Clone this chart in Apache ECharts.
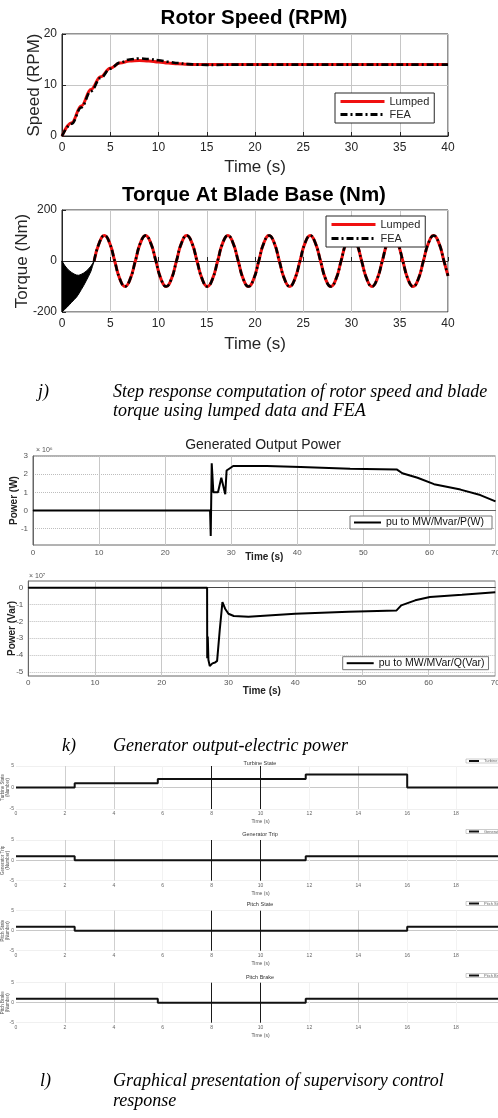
<!DOCTYPE html>
<html><head><meta charset="utf-8">
<script src="https://cdn.jsdelivr.net/npm/echarts@6/dist/echarts.min.js"></script>
<style>html,body{margin:0;padding:0;background:#fff}#c{width:498px;height:1118px}</style>
</head><body><div id="c"></div>
<script>
// ---------- j) rotor speed ----------
const speedTime   = [0,1,2,3,4,5,6,7,8,9,10,11,12,13,14,15,16,18,20,25,30,35,40];
const speedLumped = [0,2.6,5.9,9.1,11.6,13.3,14.3,14.7,14.8,14.7,14.5,14.3,14.15,14.05,14.0,14.0,14.0,14.0,14.0,14.0,14.0,14.0,14.0];
const speedFEA    = [0,2.4,5.6,8.8,11.4,13.2,14.4,15.0,15.2,15.1,14.85,14.55,14.3,14.1,14.0,13.95,13.95,14.0,14.0,14.0,14.0,14.0,14.0];
const speedXTicks = [0,40,5];   // min, max, step
const speedYTicks = [0,20,10];

// ---------- j) torque at blade base ----------
const torqueTime = [3.33,3.86,4.40,4.93,5.46,6.00,6.53,7.06,7.60,8.13,8.66,9.19,9.73,10.26,10.79,11.33,11.86,12.39,12.93,13.46,13.99,14.53,15.06,15.59,16.13,16.66,17.19,17.72,18.26,18.79,19.32,19.86,20.39,20.92,21.46,21.99,22.52,23.06,23.59,24.12,24.66,25.19,25.72,26.25,26.79,27.32,27.85,28.39,28.92,29.45,29.99,30.52,31.05,31.59,32.12,32.65,33.19,33.72,34.25,34.78,35.32,35.85,36.38,36.92,37.45,37.98,38.52,39.05,39.58,40.0];
const torqueVal  = [0,71,100,71,0,-71,-100,-71, 0,71,100,71,0,-71,-100,-71, 0,71,100,71,0,-71,-100,-71, 0,71,100,71,0,-71,-100,-71, 0,71,100,71,0,-71,-100,-71, 0,71,100,71,0,-71,-100,-71, 0,71,100,71,0,-71,-100,-71, 0,71,100,71,0,-71,-100,-71, 0,71,100,71,0,-58];
// dense start-up oscillation: envelope of the black band
const bandTime  = [0,0.25,0.5,0.75,1,1.25,1.5,1.75,2,2.25,2.5,2.75,3,3.15,3.33];
const bandUpper = [0,-16,-28,-38,-45,-51,-55,-56,-52,-47,-40,-31,-20,-11,0];
const bandLower = [-200,-191,-182,-172,-162,-152,-142,-128,-112,-96,-78,-60,-40,-22,0];

// ---------- k) generator output power ----------
const pTime = [0,26.8,26.9,27.05,27.3,28.0,28.5,29.1,29.3,29.7,30.3,35.4,40.5,48,55.1,55.9,58.2,60.7,64.7,67.7,70];
const pVal  = [0,0,-1.4,2.6,1.0,1.0,1.8,0.9,2.2,2.3,2.45,2.45,2.4,2.3,2.25,2.05,1.8,1.45,1.15,0.85,0.5]; // x1e6 W
const qTime = [0,26.8,26.82,26.9,27.0,27.2,27.6,28.0,28.3,28.7,29.1,29.5,30.0,30.8,33,40,48,55.2,55.9,58,60.2,65,70];
const qVal  = [0,0,-4.2,-2.9,-4.3,-4.65,-4.5,-4.45,-4.35,-2.5,-0.85,-1.25,-1.55,-1.68,-1.72,-1.55,-1.43,-1.35,-1.05,-0.75,-0.55,-0.42,-0.27]; // x1e7 Var
const pTicks = [-1,0,1,2,3];
const qTicks = [-5,-4,-3,-2,-1,0];

// ---------- l) supervisory control ----------
const supNames  = ['Turbine State','Generator Trip','Pitch State','Pitch Brake'];
const supTimes  = [[0,2.4,5.8,11.85,16,20],[0,2.4,11.85,20],[0,2.4,16,20],[0,5.8,11.85,20]];
const supValues = [[0,1,2,3,0,0],[1,0,1,1],[1,0,1,1],[1,0,1,1]];

const SANS = '"Liberation Sans", Arial, sans-serif';
const SERIF = '"Liberation Serif", "Times New Roman", serif';
const zip = (xs, ys) => xs.map((x, i) => [x, ys[i]]);
const DARK = '#262626';

const grids = [
  {left:62, top:34, width:386, height:102},
  {left:62, top:210, width:386, height:102},
  {left:33, top:456, width:462.5, height:89},
  {left:28.3, top:581, width:467, height:95},
  {left:16, top:766, width:489, height:43},
  {left:16, top:840, width:489, height:40.7},
  {left:16, top:910.7, width:489, height:40},
  {left:16, top:982.7, width:489, height:40}
].map((g, i) => Object.assign({
  show: i < 4, borderColor: i < 2 ? DARK : '#666', borderWidth: 1,
  backgroundColor: 'transparent', containLabel: false, outerBoundsMode: 'none'
}, g));

function topX(gi, gap) {
  return {gridIndex: gi, type: 'value', min: speedXTicks[0], max: speedXTicks[1], interval: speedXTicks[2],
    axisLine: {show: true, lineStyle: {color: DARK}}, axisTick: {inside: true, length: 4, lineStyle: {color: DARK}},
    axisLabel: {fontSize: 12, color: DARK, margin: 6, fontFamily: SANS},
    splitLine: {show: true, lineStyle: {color: '#c6c6c6', width: 1}},
    name: 'Time (s)', nameLocation: 'middle', nameGap: gap, nameMoveOverlap: false,
    nameTextStyle: {fontSize: 17, color: DARK, fontFamily: SANS}};
}
const xAxes = [
  topX(0, 23), topX(1, 24),
  {gridIndex: 2, type: 'value', min: 0, max: 70, interval: 10,
    axisLine: {show: true, lineStyle: {color: '#666'}}, axisTick: {show: false},
    axisLabel: {fontSize: 8, color: '#555', margin: 4, fontFamily: SANS},
    splitLine: {show: true, lineStyle: {color: '#c8c8c8'}},
    name: 'Time (s)', nameLocation: 'middle', nameGap: 7, nameMoveOverlap: false,
    nameTextStyle: {fontSize: 10, fontWeight: 'bold', color: '#222', fontFamily: SANS}},
  {gridIndex: 3, type: 'value', min: 0, max: 70, interval: 10,
    axisLine: {show: true, lineStyle: {color: '#444'}}, axisTick: {show: false},
    axisLabel: {fontSize: 8, color: '#555', margin: 3, fontFamily: SANS},
    splitLine: {show: true, lineStyle: {color: '#c8c8c8'}},
    name: 'Time (s)', nameLocation: 'middle', nameGap: 10.5, nameMoveOverlap: false,
    nameTextStyle: {fontSize: 10, fontWeight: 'bold', color: '#222', fontFamily: SANS}}
];
const yAxes = [
  {gridIndex: 0, type: 'value', min: speedYTicks[0], max: speedYTicks[1], interval: speedYTicks[2],
    axisLine: {show: true, lineStyle: {color: DARK}}, axisTick: {inside: true, length: 4, lineStyle: {color: DARK}},
    axisLabel: {fontSize: 12, color: DARK, margin: 5, fontFamily: SANS},
    splitLine: {show: true, lineStyle: {color: '#c6c6c6'}},
    name: 'Speed (RPM)', nameLocation: 'middle', nameGap: 19, nameMoveOverlap: false,
    nameTextStyle: {fontSize: 17, color: DARK, fontFamily: SANS}},
  {gridIndex: 1, type: 'value', min: -200, max: 200, interval: 200,
    axisLine: {show: true, lineStyle: {color: DARK}}, axisTick: {inside: true, length: 4, lineStyle: {color: DARK}},
    axisLabel: {fontSize: 12, color: DARK, margin: 5, fontFamily: SANS},
    splitLine: {show: true, lineStyle: {color: '#c6c6c6'}},
    name: 'Torque (Nm)', nameLocation: 'middle', nameGap: 31, nameMoveOverlap: false,
    nameTextStyle: {fontSize: 17, color: DARK, fontFamily: SANS}},
  {gridIndex: 2, type: 'value', min: -1.9, max: 3,
    axisLine: {show: true, lineStyle: {color: '#666'}}, axisTick: {show: false, customValues: pTicks},
    axisLabel: {fontSize: 8, color: '#555', margin: 5, fontFamily: SANS, customValues: pTicks},
    splitLine: {show: true, lineStyle: {color: '#bdbdbd', type: 'dotted'}},
    name: 'Power (W)', nameLocation: 'middle', nameGap: 14, nameMoveOverlap: false,
    nameTextStyle: {fontSize: 10, fontWeight: 'bold', color: '#222', fontFamily: SANS}},
  {gridIndex: 3, type: 'value', min: -5.25, max: 0.4,
    axisLine: {show: true, lineStyle: {color: '#666'}}, axisTick: {show: false, customValues: qTicks},
    axisLabel: {fontSize: 8, color: '#555', margin: 5, fontFamily: SANS, customValues: qTicks},
    splitLine: {show: true, lineStyle: {color: '#bdbdbd', type: 'dotted'}},
    name: 'Power (Var)', nameLocation: 'middle', nameGap: 11, nameMoveOverlap: false,
    nameTextStyle: {fontSize: 10, fontWeight: 'bold', color: '#222', fontFamily: SANS}}
];
const vGridColors = ['rgba(0,0,0,0)','#cfcfcf','#cfcfcf','#f2f2f2','#1a1a1a','#1a1a1a','#f2f2f2','#cfcfcf','#f2f2f2','#f2f2f2','rgba(0,0,0,0)'];
const supYNames = ['Turbine State\n(Number)','Generator Trip\n(Number)','Pitch State\n(Number)','Pitch Brake\n(Number)'];
for (let i = 0; i < 4; i++) {
  xAxes.push({gridIndex: 4 + i, type: 'value', min: 0, max: 20, interval: 2,
    axisLine: {show: false}, axisTick: {show: false},
    axisLabel: {fontSize: 5, color: '#666', margin: 2, fontFamily: SANS},
    splitLine: {show: true, lineStyle: {color: vGridColors, width: 1}},
    name: 'Time (s)', nameLocation: 'middle', nameGap: 10, nameMoveOverlap: false,
    nameTextStyle: {fontSize: 5, color: '#555', fontFamily: SANS}});
  yAxes.push({gridIndex: 4 + i, type: 'value', min: -5, max: 5, interval: 5,
    axisLine: {show: false}, axisTick: {show: false},
    axisLabel: {fontSize: 5, color: '#666', margin: 2, fontFamily: SANS},
    splitLine: {show: true, lineStyle: {color: ['#f0f0f0', '#c8c8c8', '#f0f0f0'], width: 1}},
    name: supYNames[i], nameLocation: 'middle', nameGap: 6, nameMoveOverlap: false,
    nameTextStyle: {fontSize: 4.5, color: '#555', fontFamily: SANS, lineHeight: 5}});
}

const series = [
  {name: 'Lumped', type: 'line', xAxisIndex: 0, yAxisIndex: 0, data: zip(speedTime, speedLumped), smooth: 0.4, smoothMonotone: 'x', symbol: 'none', lineStyle: {color: '#f01010', width: 3}, itemStyle: {color: '#f01010'}},
  {name: 'FEA', type: 'line', xAxisIndex: 0, yAxisIndex: 0, data: zip(speedTime, speedFEA), smooth: 0.4, smoothMonotone: 'x', symbol: 'none', lineStyle: {color: '#000', width: 2.6, type: [7, 3, 2, 3]}, itemStyle: {color: '#000'}},
  {name: 'startup band', type: 'custom', coordinateSystem: 'cartesian2d', xAxisIndex: 1, yAxisIndex: 1,
    data: [[bandTime[0], bandUpper[0]]], silent: true, z: 3,
    renderItem: function (params, api) {
      const pts = [];
      for (let i = 0; i < bandTime.length; i++) pts.push(api.coord([bandTime[i], bandUpper[i]]));
      for (let i = bandTime.length - 1; i >= 0; i--) pts.push(api.coord([bandTime[i], bandLower[i]]));
      return {type: 'polygon', shape: {points: pts}, style: {fill: '#000', stroke: '#000', lineWidth: 1}};
    }},
  {name: 'Lumped', type: 'line', xAxisIndex: 1, yAxisIndex: 1, data: zip(torqueTime, torqueVal), smooth: 0.5, symbol: 'none', lineStyle: {color: '#f01010', width: 3}, itemStyle: {color: '#f01010'}},
  {name: 'FEA', type: 'line', xAxisIndex: 1, yAxisIndex: 1, data: zip(torqueTime, torqueVal), smooth: 0.5, symbol: 'none', lineStyle: {color: '#000', width: 2.6, type: [7, 3, 2, 3]}, itemStyle: {color: '#000'}},
  {name: 'pu to MW/Mvar/P(W)', type: 'line', xAxisIndex: 2, yAxisIndex: 2, data: zip(pTime, pVal), symbol: 'none', lineStyle: {color: '#000', width: 2}, itemStyle: {color: '#000'}},
  {name: 'pu to MW/MVar/Q(Var)', type: 'line', xAxisIndex: 3, yAxisIndex: 3, data: zip(qTime, qVal), symbol: 'none', lineStyle: {color: '#000', width: 2}, itemStyle: {color: '#000'}}
];
for (let i = 0; i < 4; i++) {
  series.push({name: supNames[i], type: 'line', xAxisIndex: 4 + i, yAxisIndex: 4 + i, data: zip(supTimes[i], supValues[i]), step: 'end', symbol: 'none', lineStyle: {color: '#111', width: 2}, itemStyle: {color: '#111'}});
}

const legBase = {orient: 'vertical', selectedMode: false, backgroundColor: '#fff', borderRadius: 0, itemStyle: {opacity: 0}};
const legends = [
  Object.assign({}, legBase, {left: 335, top: 93, data: ['Lumped', 'FEA'], itemWidth: 44, itemHeight: 10, itemGap: 2, padding: [3, 5, 3, 4], borderColor: DARK, borderWidth: 1, textStyle: {fontSize: 11, color: DARK, fontFamily: SANS}, lineStyle: {width: 3}}),
  Object.assign({}, legBase, {left: 326, top: 216, data: ['Lumped', 'FEA'], itemWidth: 44, itemHeight: 10, itemGap: 3, padding: [3, 5, 3, 4], borderColor: DARK, borderWidth: 1, textStyle: {fontSize: 11, color: DARK, fontFamily: SANS}, lineStyle: {width: 3}}),
  Object.assign({}, legBase, {left: 350, top: 516, data: ['pu to MW/Mvar/P(W)'], itemWidth: 27, itemHeight: 8, padding: [1, 8, 1, 3], borderColor: '#777', borderWidth: 1, textStyle: {fontSize: 10.5, color: '#111', fontFamily: SANS}, lineStyle: {width: 2}}),
  Object.assign({}, legBase, {left: 342.7, top: 656.7, data: ['pu to MW/MVar/Q(Var)'], itemWidth: 27, itemHeight: 8, padding: [1, 4, 1, 3], borderColor: '#777', borderWidth: 1, textStyle: {fontSize: 10.5, color: '#111', fontFamily: SANS}, lineStyle: {width: 2}})
];
const supLegTop = [759, 829.5, 901.5, 973.5];
for (let i = 0; i < 4; i++) {
  legends.push(Object.assign({}, legBase, {left: 466, top: supLegTop[i], data: [supNames[i]], itemWidth: 10, itemHeight: 3, padding: [0, 2, 0, 2], borderColor: '#999', borderWidth: 0.5, textStyle: {fontSize: 4, color: '#666', fontFamily: SANS}, lineStyle: {width: 2}}));
}

function txt(x, y, text, font, extra) {
  return {type: 'text', x: x, y: y, silent: true,
    style: Object.assign({text: text, font: font, fill: '#000', align: 'left', verticalAlign: 'middle'}, extra || {})};
}
const cap = 'italic 18px ' + SERIF;
const supTitleY = [763, 834.3, 904.3, 977.3];
const graphics = [
  txt(254, 18, 'Rotor Speed (RPM)', 'bold 20.5px ' + SANS, {align: 'center'}),
  txt(254, 195, 'Torque At Blade Base (Nm)', 'bold 20.5px ' + SANS, {align: 'center'}),
  txt(38, 392.3, 'j)', cap), txt(113, 392.3, 'Step response computation of rotor speed and blade', cap),
  txt(113, 411.7, 'torque using lumped data and FEA', cap),
  txt(263, 445, 'Generated Output Power', '14px ' + SANS, {align: 'center', fill: '#222'}),
  txt(36, 450.5, '× 10⁶', '7px ' + SANS, {fill: '#555'}),
  txt(29, 575.7, '× 10⁷', '7px ' + SANS, {fill: '#555'}),
  txt(62, 746, 'k)', cap), txt(113, 746, 'Generator output-electric power', cap),
  txt(40, 1081.7, 'l)', cap), txt(113, 1081.7, 'Graphical presentation of supervisory control', cap),
  txt(113, 1101.7, 'response', cap)
];
for (let i = 0; i < 4; i++) graphics.push(txt(260, supTitleY[i], supNames[i], '5.5px ' + SANS, {align: 'center', fill: '#333'}));

const chart = echarts.init(document.getElementById('c'), null, {renderer: 'canvas'});
chart.setOption({
  animation: false, backgroundColor: '#fff',
  grid: grids, xAxis: xAxes, yAxis: yAxes, series: series, legend: legends,
  graphic: {elements: graphics}
});
</script></body></html>
